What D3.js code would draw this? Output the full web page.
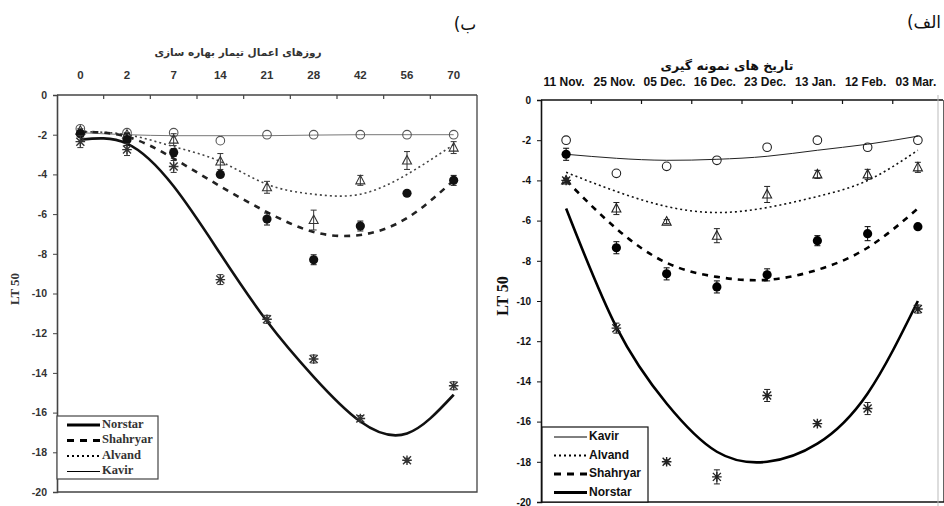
<!DOCTYPE html>
<html>
<head>
<meta charset="utf-8">
<title>LT50</title>
<style>
body{ margin:0; background:#fff; }
svg{ display:block; }
.tick text{ font-family:Arial, "Liberation Sans", sans-serif; font-weight:bold; }
</style>
</head>
<body>
<svg id="chart" width="944" height="506"></svg>

<script src="https://cdn.jsdelivr.net/npm/d3@7"></script>
<script>

// categories
var leftDays = ["0","2","7","14","21","28","42","56","70"];
var rightDates = ["11 Nov.","25 Nov.","05 Dec.","16 Dec.","23 Dec.","13 Jan.","12 Feb.","03 Mar."];
var yTicks = [0,-2,-4,-6,-8,-10,-12,-14,-16,-18,-20];

// left panel (ب) - measured points
var leftNorstar   = [-2.35, -2.75, -3.6, -9.3, -11.3, -13.3, -16.3, -18.4, -14.65];
var leftShahryar  = [-1.95, -2.25, -2.9, -4.0, -6.25, -8.3, -6.6, -4.95, -4.3];
var leftAlvand    = [-1.8, -2.0, -2.25, -3.35, -4.65, -6.3, -4.3, -3.3, -2.65];
var leftKavir     = [-1.7, -1.9, -1.9, -2.3, -2.0, -2.0, -2.0, -2.0, -2.0];
// left panel error bars
var leftNorstarErr  = [0.3, 0.3, 0.3, 0.25, 0.2, 0.2, 0.15, 0.1, 0.2];
var leftShahryarErr = [0.15, 0.3, 0.2, 0.1, 0.3, 0.25, 0.25, 0, 0.25];
var leftAlvandErr   = [0.1, 0.1, 0.3, 0.4, 0.3, 0.5, 0.25, 0.45, 0.3];
var leftKavirErr    = [0, 0, 0, 0, 0, 0, 0, 0, 0];
// left panel trend lines
var leftNorstarFit  = [-2.25, -2.45, -4.6, -8.0, -11.4, -14.2, -16.45, -17.05, -15.1];
var leftShahryarFit = [-1.85, -2.1, -3.2, -4.6, -5.9, -6.9, -7.05, -6.2, -4.3];
var leftAlvandFit   = [-1.85, -2.0, -2.6, -3.35, -4.5, -5.0, -5.0, -4.0, -2.5];
var leftKavirFit    = [-1.9, -2.0, -2.05, -2.05, -2.05, -2.02, -2.0, -2.0, -2.0];

// right panel (الف) - measured points
var rightNorstar   = [-4.0, -11.35, -18.0, -18.75, -14.7, -16.1, -15.35, -10.4];
var rightShahryar  = [-2.7, -7.35, -8.65, -9.3, -8.7, -7.0, -6.65, -6.3];
var rightAlvand    = [-4.0, -5.4, -6.05, -6.75, -4.7, -3.7, -3.7, -3.35];
var rightKavir     = [-2.0, -3.65, -3.3, -3.0, -2.35, -2.0, -2.35, -2.0];
var rightNorstarErr  = [0.1, 0.25, 0.1, 0.35, 0.3, 0.1, 0.3, 0.2];
var rightShahryarErr = [0.3, 0.3, 0.3, 0.3, 0.3, 0.25, 0.35, 0.1];
var rightAlvandErr   = [0.1, 0.3, 0.1, 0.35, 0.4, 0.2, 0.25, 0.25];
var rightKavirErr    = [0, 0, 0, 0, 0, 0, 0, 0];
var rightNorstarFit  = [-5.4, -11.3, -15.1, -17.5, -18.0, -17.1, -14.6, -10.0];
var rightShahryarFit = [-4.0, -6.4, -8.1, -8.8, -8.95, -8.45, -7.35, -5.4];
var rightAlvandFit   = [-3.6, -4.55, -5.3, -5.6, -5.35, -4.8, -4.0, -2.5];
var rightKavirFit    = [-2.7, -2.9, -3.0, -2.95, -2.8, -2.5, -2.2, -1.8];

var lineStyles = {
	Norstar:  {width: 2.6, dash: null},
	Shahryar: {width: 2.6, dash: "6,6"},
	Alvand:   {width: 1.6, dash: "2,3"},
	Kavir:    {width: 1, dash: null}
};

var svg = d3.select("#chart");

// marker shapes
function starPath(s){
	var p = d3.path();
	p.moveTo(-s, -s); p.lineTo(s, s);
	p.moveTo(-s, s); p.lineTo(s, -s);
	p.moveTo(0, -s*1.2); p.lineTo(0, s*1.2);
	p.moveTo(-s*1.2, 0); p.lineTo(s*1.2, 0);
	return p.toString();
}

function drawMarkers(g, x, y, cats, vals, errs, kind, col){
	cats.forEach(function(c, i){
		var cx = x(c) + x.bandwidth()/2;
		var cy = y(vals[i]);
		if(errs[i] > 0){
			var top = y(vals[i] + errs[i]), bot = y(vals[i] - errs[i]);
			g.append("path")
				.attr("d", "M" + cx + "," + top + "V" + bot + "M" + (cx-3) + "," + top + "H" + (cx+3) + "M" + (cx-3) + "," + bot + "H" + (cx+3))
				.attr("stroke", col).attr("stroke-width", 1).attr("fill", "none");
		}
		if(kind === "circle"){
			g.append("circle").attr("cx", cx).attr("cy", cy).attr("r", 4.3)
				.attr("fill", "none").attr("stroke", col).attr("stroke-width", 1.1);
		}else if(kind === "dot"){
			g.append("circle").attr("cx", cx).attr("cy", cy).attr("r", 4.6).attr("fill", col);
		}else if(kind === "triangle"){
			g.append("path").attr("transform", "translate(" + cx + "," + cy + ")")
				.attr("d", "M0,-5L4.5,3.5L-4.5,3.5Z")
				.attr("fill", "none").attr("stroke", col).attr("stroke-width", 1.1);
		}else{
			g.append("path").attr("transform", "translate(" + cx + "," + cy + ")")
				.attr("d", starPath(4))
				.attr("stroke", col).attr("stroke-width", 1.4).attr("fill", "none");
		}
	});
}

function drawFit(g, x, y, cats, vals, name, col){
	var line = d3.line()
		.x(function(d, i){ return x(cats[i]) + x.bandwidth()/2; })
		.y(function(d){ return y(d); })
		.curve(d3.curveNatural);
	g.append("path")
		.datum(vals)
		.attr("d", line)
		.attr("fill", "none")
		.attr("stroke", col)
		.attr("stroke-width", lineStyles[name].width)
		.attr("stroke-dasharray", lineStyles[name].dash);
}

function drawPanel(opt){
	var g = svg.append("g");
	var x = d3.scaleBand().domain(opt.cats).range(opt.xr);
	var y = d3.scaleLinear().domain([0, -20]).range(opt.yr);

	// frame
	g.append("path")
		.attr("d", "M" + opt.xr[0] + "," + opt.yr[1] + "H" + opt.frameRight + "V" + opt.yr[0])
		.attr("stroke", opt.axisCol).attr("stroke-width", 1.3).attr("fill", "none");

	// fits first, markers on top
	opt.series.forEach(function(s){ drawFit(g, x, y, opt.cats, s.fit, s.name, s.lineCol); });
	opt.series.forEach(function(s){ drawMarkers(g, x, y, opt.cats, s.vals, s.errs, s.marker, s.col); });

	// y axis
	var ya = g.append("g")
		.attr("transform", "translate(" + opt.xr[0] + ",0)")
		.call(d3.axisLeft(y).tickValues(yTicks).tickSize(4).tickPadding(opt.tickPad)
			.tickFormat(function(d){ return String(d); }));
	ya.select(".domain").attr("stroke", opt.axisCol).attr("stroke-width", 1.6);
	ya.selectAll(".tick line").attr("stroke", opt.axisCol);
	ya.selectAll(".tick text").style("font-size", opt.tickSize + "px").attr("fill", opt.textCol);

	// top x axis: line, inward ticks at band edges, labels centred in bands
	g.append("line")
		.attr("x1", opt.xr[0]).attr("x2", opt.xr[1])
		.attr("y1", opt.yr[0]).attr("y2", opt.yr[0])
		.attr("stroke", opt.axisCol).attr("stroke-width", 1.6);
	g.selectAll(".xt").data(opt.cats.slice(1)).enter()
		.append("line")
		.attr("x1", function(d){ return x(d); }).attr("x2", function(d){ return x(d); })
		.attr("y1", opt.yr[0]).attr("y2", opt.yr[0] + 4)
		.attr("stroke", opt.axisCol).attr("stroke-width", 1.2);
	g.selectAll(".xl").data(opt.cats).enter()
		.append("text")
		.attr("x", function(d){ return x(d) + x.bandwidth()/2 + opt.labelShift; })
		.attr("y", opt.xLabelY)
		.attr("text-anchor", "middle")
		.attr("dominant-baseline", "middle")
		.style("font-family", "Arial, 'Liberation Sans', sans-serif")
		.style("font-weight", "bold")
		.style("font-size", opt.xLabelSize + "px")
		.attr("fill", opt.textCol)
		.text(function(d){ return d; });

	// axis title (Persian)
	g.append("text")
		.attr("x", opt.titleX).attr("y", opt.titleY)
		.attr("text-anchor", "middle")
		.attr("dominant-baseline", "middle")
		.attr("direction", "rtl")
		.style("font-family", "'DejaVu Sans', sans-serif")
		.style("font-weight", "bold")
		.style("font-size", opt.titleSize + "px")
		.attr("fill", opt.textCol)
		.text(opt.title);

	// LT 50
	g.append("text")
		.attr("transform", "translate(" + opt.ltX + "," + opt.ltY + ") rotate(-90)")
		.attr("text-anchor", "middle")
		.attr("dominant-baseline", "middle")
		.style("font-family", "'Liberation Serif', 'Times New Roman', serif")
		.style("font-weight", "bold")
		.style("font-size", opt.ltSize + "px")
		.attr("fill", opt.textCol)
		.text("LT 50");

	// legend
	var L = opt.legend;
	g.append("rect")
		.attr("x", L.x).attr("y", L.y).attr("width", L.w).attr("height", L.h)
		.attr("fill", "#fff").attr("stroke", opt.axisCol).attr("stroke-width", 1.2);
	L.order.forEach(function(name, i){
		var ly = L.y + L.first + i * L.step;
		var st = lineStyles[name];
		g.append("line")
			.attr("x1", L.x + L.lx0).attr("x2", L.x + L.lx1)
			.attr("y1", ly).attr("y2", ly)
			.attr("stroke", "#000")
			.attr("stroke-width", name === "Kavir" ? 1 : st.width + 0.6)
			.attr("stroke-dasharray", name === "Shahryar" ? "7,6" : st.dash);
		g.append("text")
			.attr("x", L.x + L.lx1 + 2).attr("y", ly)
			.attr("dominant-baseline", "middle")
			.style("font-family", L.font)
			.style("font-weight", "bold")
			.style("font-size", L.size + "px")
			.attr("fill", opt.textCol)
			.text(name);
	});

	// panel letter
	g.append("text")
		.attr("x", opt.letterX).attr("y", opt.letterY)
		.attr("text-anchor", "middle")
		.attr("dominant-baseline", "middle")
		.attr("direction", "rtl")
		.style("font-family", "'DejaVu Sans', sans-serif")
		.style("font-size", "17px")
		.attr("fill", "#111")
		.text(opt.letter);
}

drawPanel({
	cats: leftDays, xr: [57, 477], yr: [95, 492], frameRight: 477,
	axisCol: "#444", textCol: "#333", tickPad: 6, tickSize: 10.5, labelShift: 0,
	xLabelY: 76, xLabelSize: 11.5,
	title: "روزهای اعمال تیمار بهاره سازی", titleX: 238, titleY: 53, titleSize: 10.5,
	ltX: 16, ltY: 289, ltSize: 13,
	letter: "ب)", letterX: 465, letterY: 25,
	legend: {x: 57, y: 416, w: 101, h: 63, first: 9, step: 15.5, lx0: 10, lx1: 43, size: 12.5,
		font: "'Liberation Serif', 'Times New Roman', serif",
		order: ["Norstar", "Shahryar", "Alvand", "Kavir"]},
	series: [
		{name: "Kavir", vals: leftKavir, errs: leftKavirErr, fit: leftKavirFit, marker: "circle", col: "#555", lineCol: "#777"},
		{name: "Alvand", vals: leftAlvand, errs: leftAlvandErr, fit: leftAlvandFit, marker: "triangle", col: "#333", lineCol: "#444"},
		{name: "Shahryar", vals: leftShahryar, errs: leftShahryarErr, fit: leftShahryarFit, marker: "dot", col: "#111", lineCol: "#222"},
		{name: "Norstar", vals: leftNorstar, errs: leftNorstarErr, fit: leftNorstarFit, marker: "star", col: "#333", lineCol: "#111"}
	]
});

drawPanel({
	cats: rightDates, xr: [541, 943], yr: [100, 502], frameRight: 944,
	axisCol: "#111", textCol: "#111", tickPad: 6, tickSize: 10, labelShift: -2,
	xLabelY: 83, xLabelSize: 12,
	title: "تاریخ های نمونه گیری", titleX: 727, titleY: 66, titleSize: 12.5,
	ltX: 504, ltY: 296, ltSize: 16,
	letter: "الف)", letterX: 924, letterY: 23,
	legend: {x: 542, y: 427, w: 106, h: 75, first: 10, step: 18.5, lx0: 12, lx1: 45, size: 12,
		font: "Arial, 'Liberation Sans', sans-serif",
		order: ["Kavir", "Alvand", "Shahryar", "Norstar"]},
	series: [
		{name: "Kavir", vals: rightKavir, errs: rightKavirErr, fit: rightKavirFit, marker: "circle", col: "#222", lineCol: "#222"},
		{name: "Alvand", vals: rightAlvand, errs: rightAlvandErr, fit: rightAlvandFit, marker: "triangle", col: "#222", lineCol: "#111"},
		{name: "Shahryar", vals: rightShahryar, errs: rightShahryarErr, fit: rightShahryarFit, marker: "dot", col: "#000", lineCol: "#000"},
		{name: "Norstar", vals: rightNorstar, errs: rightNorstarErr, fit: rightNorstarFit, marker: "star", col: "#222", lineCol: "#000"}
	]
});

// thin outer frame line on the right of the sampling-date chart
svg.append("line")
	.attr("x1", 938).attr("x2", 938).attr("y1", 95).attr("y2", 506)
	.attr("stroke", "#bbb").attr("stroke-width", 1);

</script>
</body>
</html>
